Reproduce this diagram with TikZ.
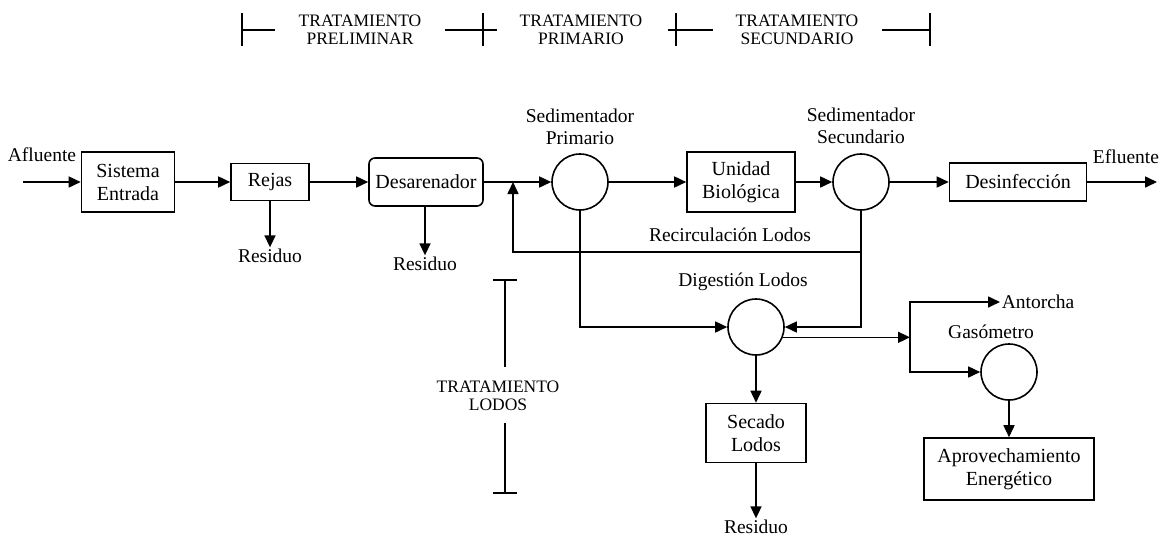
\documentclass[tikz,border=0pt]{standalone}
\usepackage{fontspec}
\setmainfont{Liberation Serif}
\usepackage{tikz}
\usetikzlibrary{arrows.meta}
\usetikzlibrary{positioning}

\begin{document}
\begin{tikzpicture}[x=1pt, y=-1pt, line width=1.6pt,
        unit/.style={draw, align=center, inner sep=0pt, font=\fontsize{20}{23}\selectfont},
        tank/.style={draw, circle, minimum size=56pt, inner sep=0pt},
        lbl/.style={align=center, inner sep=1pt, font=\fontsize{19.5}{22}\selectfont},
        stage/.style={align=center, inner sep=1pt, font=\fontsize{17.5}{18}\selectfont},
        flow/.style={-{Triangle[length=12pt,width=11pt]}}]
            \useasboundingbox (0,0) rectangle (1164,539);

            % main line
            \node[unit, minimum width=93pt, minimum height=60pt] (ent) at (128,182) {Sistema\\Entrada};
            \node[unit, minimum width=78pt, minimum height=37pt] (rej) at (270,182) {Rejas};
            \node[unit, rounded corners=6pt, minimum width=114pt, minimum height=48pt] (des) at (426,182) {Desarenador};
            \node[tank] (sp) at (580,182) {};
            \node[unit, minimum width=108pt, minimum height=60pt] (bio) at (741,182) {Unidad\\Biológica};
            \node[tank] (ss) at (861,182) {};
            \node[unit, minimum width=137pt, minimum height=38pt] (dis) at (1018,182) {Desinfección};

            % sludge line
            \node[tank] (dig) at (756,327) {};
            \node[unit, minimum width=100pt, minimum height=59pt] (sec) at (756,433) {Secado\\Lodos};
            \node[tank] (gas) at (1009,372) {};
            \node[unit, minimum width=170pt, minimum height=62pt] (apr) at (1009,469) {Aprovechamiento\\Energético};

            % labels
            \node[lbl] (afl) at (42,155) {Afluente};
            \node[lbl] (efl) at (1126,157) {Efluente};
            \node[lbl, above=7pt of sp] (spl) {Sedimentador\\Primario};
            \node[lbl, above=8pt of ss] (ssl) {Sedimentador\\Secundario};
            \node[lbl] (digl) at (743,282) {Digestión Lodos};
            \node[lbl] (gasl) at (991,332) {Gasómetro};
            \node[lbl] (recl) at (730,235) {Recirculación Lodos};
            \node[lbl, anchor=west] (ant) at (1000,302) {Antorcha};
            \node[lbl] (res1) at (270,256) {Residuo};
            \node[lbl] (res2) at (425,264) {Residuo};
            \node[lbl] (res3) at (756,527) {Residuo};

            \coordinate (in) at (23,182);
            \coordinate (out) at (1157,182);
            \coordinate (join) at (513,182);
            \coordinate (rec) at (513,252);
            \coordinate (gsp) at (910,337);

            \draw   (in) edge[flow] (ent)
                    (ent) edge[flow] (rej)
                    (rej) edge[flow] (des)
                    (des) edge (join)
                    (join) edge[flow] (sp)
                    (sp) edge[flow] (bio)
                    (bio) edge[flow] (ss)
                    (ss) edge[flow] (dis)
                    (dis) edge[flow] (out)
                    (rej) edge[flow] (res1)
                    (res2 |- des.south) edge[flow] (res2)
                    (dig) edge[flow] (sec)
                    (sec) edge[flow] (res3)
                    (gas) edge[flow] (apr)
                    ;
            \draw[flow] (ss.south) |- (rec) -- (join);
            \draw[flow] (ss.south) |- (dig.east);
            \draw[flow] (sp.south) |- (dig.west);
            \draw[flow] (dig.-21) -- (dig.-21 -| gsp);
            \draw[flow] (gsp |- dig.-21) |- (ant.west);
            \draw[flow] (gsp |- dig.-21) |- (gas.west);

            % stages
            \node[stage] (tpre) at (360,30) {TRATAMIENTO\\PRELIMINAR};
            \node[stage] (tpri) at (581,30) {TRATAMIENTO\\PRIMARIO};
            \node[stage] (tsec) at (797,30) {TRATAMIENTO\\SECUNDARIO};
            \node[stage] (tlod) at (498,396) {TRATAMIENTO\\LODOS};
            \draw (242,13) -- (242,46) (242,30) -- (275,30);
            \draw (445,30) -- (497,30) (483,13) -- (483,46);
            \draw (668,30) -- (713,30) (676,13) -- (676,46);
            \draw (882,30) -- (930,30) (930,13) -- (930,46);
            \draw (493,280) -- (517,280) (505,280) -- (505,367);
            \draw (505,423) -- (505,493) (493,493) -- (517,493);
        \end{tikzpicture}
\end{document}
